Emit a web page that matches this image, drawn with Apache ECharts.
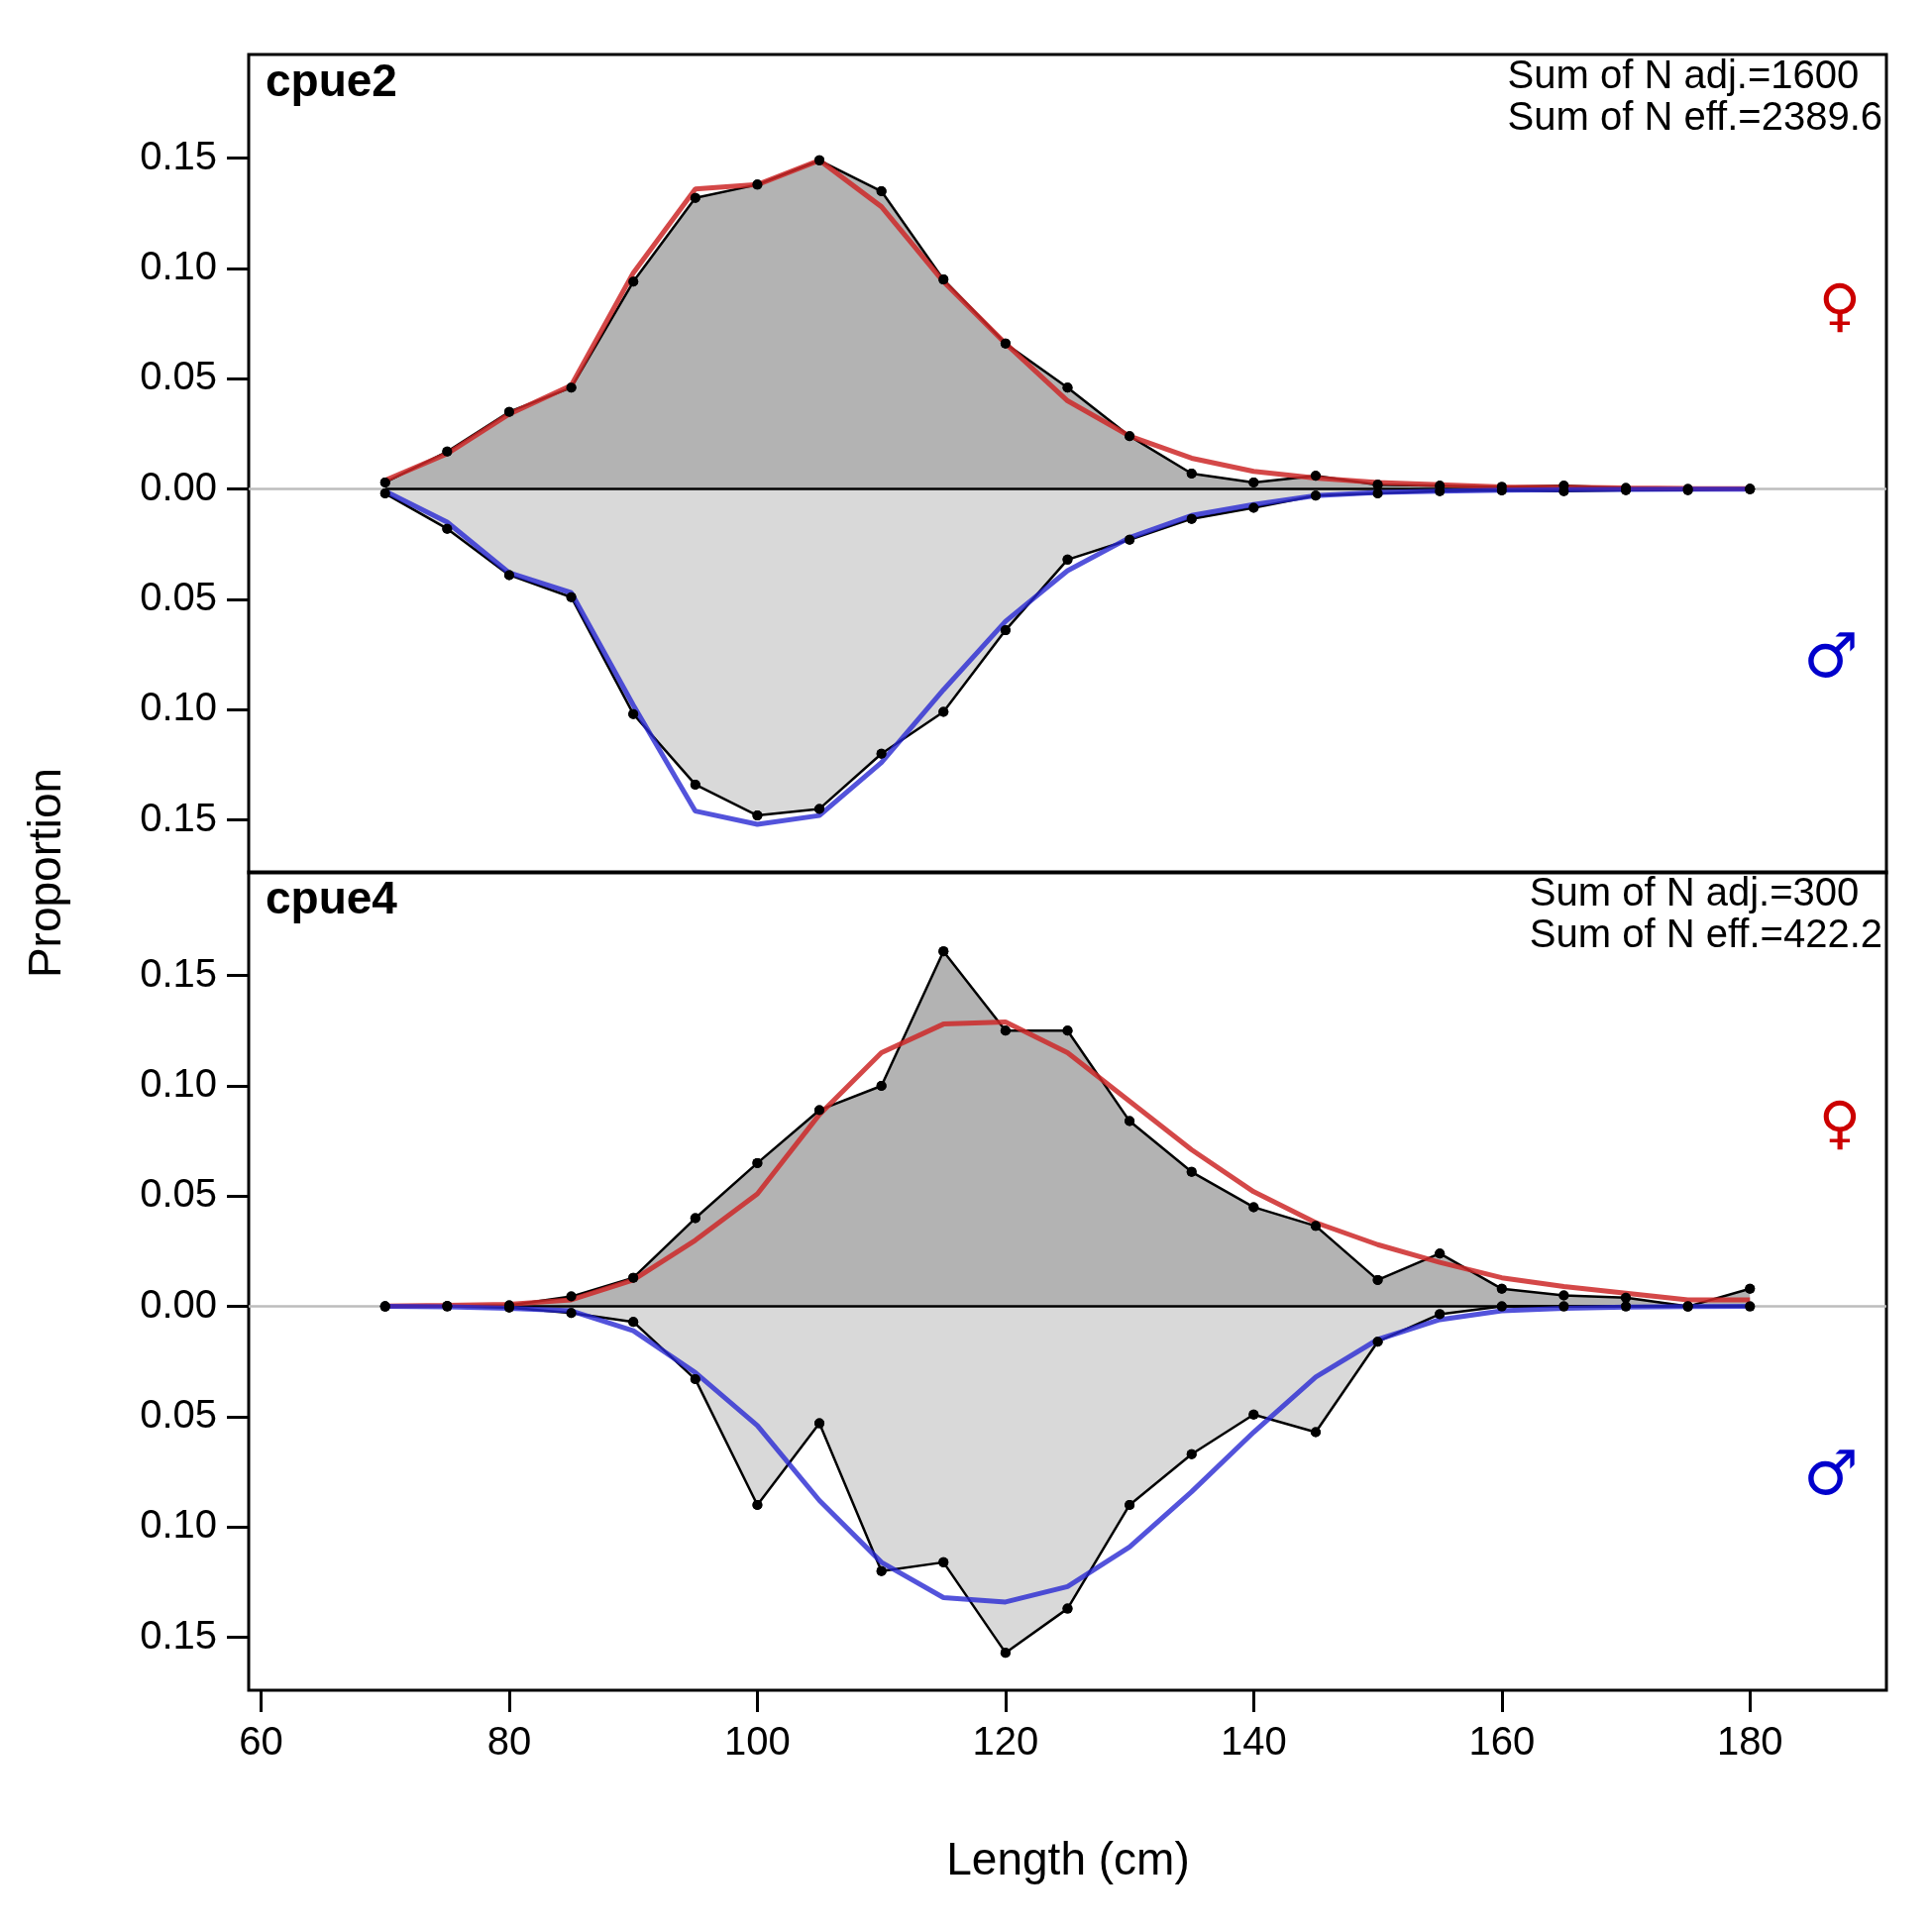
<!DOCTYPE html>
<html><head><meta charset="utf-8">
<script src="https://cdn.jsdelivr.net/npm/echarts@6/dist/echarts.min.js"></script>
<style>html,body{margin:0;background:#fff}#c{width:1950px;height:1950px}</style>
</head><body><div id="c"></div>
<script>
const lengths = [70,75,80,85,90,95,100,105,110,115,120,125,130,135,140,145,150,155,160,165,170,175,180];
const yTicks = [-0.15,-0.10,-0.05,0,0.05,0.10,0.15];
const xTicks = [60,80,100,120,140,160,180];

// cpue2
const f2Obs = [.003,.017,.035,.046,.094,.132,.138,.149,.135,.095,.066,.046,.024,.007,.003,.006,.002,.0015,.001,.0015,.0005,0,0];
const f2Fit = [.004,.016,.034,.047,.098,.136,.138,.149,.128,.094,.066,.040,.024,.014,.008,.005,.003,.002,.001,.0008,.0005,.0003,.0002];
const m2Obs = [.002,.018,.039,.049,.102,.134,.148,.145,.120,.101,.064,.032,.023,.0135,.0085,.003,.002,.001,.0006,.001,.0005,.0005,0];
const m2Fit = [.001,.015,.038,.047,.098,.146,.152,.148,.124,.091,.060,.037,.022,.012,.007,.003,.0015,.001,.0005,.0003,.0002,.0001,.0001];
// cpue4
const f4Obs = [0,.0002,.0005,.0045,.013,.040,.065,.089,.100,.161,.125,.125,.084,.061,.045,.0365,.012,.024,.008,.005,.004,0,.008];
const f4Fit = [.0002,.0005,.001,.003,.012,.030,.051,.087,.115,.128,.129,.115,.093,.071,.052,.038,.028,.020,.013,.009,.006,.003,.003];
const m4Obs = [0,0,.0005,.003,.007,.033,.090,.053,.120,.116,.157,.137,.090,.067,.049,.057,.016,.0035,0,0,0,0,0];
const m4Fit = [0,.0002,.0008,.002,.011,.030,.054,.088,.116,.132,.134,.127,.109,.084,.057,.032,.015,.006,.002,.0008,.0003,.0001,0];

const panels = [
  {name:'cpue2', adj:'Sum of N adj.=1600', eff:'Sum of N eff.=2389.6', fo:f2Obs, ff:f2Fit, mo:m2Obs, mf:m2Fit},
  {name:'cpue4', adj:'Sum of N adj.=300', eff:'Sum of N eff.=422.2', fo:f4Obs, ff:f4Fit, mo:m4Obs, mf:m4Fit}
];

const pts = (vals, sign) => lengths.map((x, i) => [x, sign * vals[i]]);
const font = 'Liberation Sans, Arial, sans-serif';
const L = 251, W = 1653, tops = [55, 880], H = 826;

const grids = [], xAxes = [], yAxes = [], series = [], graphic = [];
panels.forEach((p, k) => {
  grids.push({left: L, top: tops[k], width: W, height: H, show: true, borderColor: '#000', borderWidth: 3, backgroundColor: 'transparent'});
  xAxes.push({
    type: 'value', gridIndex: k, min: 59, max: 191, show: k === 1, position: 'bottom',
    axisLine: {show: false, onZero: false}, splitLine: {show: false},
    axisTick: {show: true, length: 22, lineStyle: {color: '#000', width: 3}, customValues: xTicks},
    axisLabel: {fontSize: 40, color: '#000', fontFamily: font, margin: 34, customValues: xTicks}
  });
  yAxes.push({
    type: 'value', gridIndex: k, min: -0.174, max: 0.197,
    axisLine: {show: false, onZero: false}, splitLine: {show: false},
    axisTick: {show: true, length: 22, lineStyle: {color: '#000', width: 3}, customValues: yTicks},
    axisLabel: {fontSize: 40, color: '#000', fontFamily: font, margin: 32, customValues: yTicks,
      formatter: v => Math.abs(v).toFixed(2)}
  });
  const base = {xAxisIndex: k, yAxisIndex: k, type: 'line', silent: true, animation: false};
  series.push({...base, data: [[59,0],[191,0]], symbol: 'none', lineStyle: {color: '#bdbdbd', width: 2.5}, z: 1});
  series.push({...base, data: pts(p.fo, 1), symbol: 'circle', symbolSize: 10, itemStyle: {color: '#000'},
    lineStyle: {color: '#000', width: 2.5}, areaStyle: {color: '#b3b3b3', opacity: 1, origin: 0}, z: 2});
  series.push({...base, data: pts(p.mo, -1), symbol: 'circle', symbolSize: 10, itemStyle: {color: '#000'},
    lineStyle: {color: '#000', width: 2.5}, areaStyle: {color: '#d9d9d9', opacity: 1, origin: 0}, z: 2});
  series.push({...base, data: [[70,0],[180,0]], symbol: 'none', lineStyle: {color: '#000', width: 2.5}, z: 3});
  series.push({...base, data: pts(p.ff, 1), symbol: 'none', lineStyle: {color: 'rgba(205,40,40,0.85)', width: 5}, z: 4});
  series.push({...base, data: pts(p.mf, -1), symbol: 'none', lineStyle: {color: 'rgba(40,40,210,0.8)', width: 5}, z: 4});
  series.push({...base, data: pts(p.fo, 1), symbol: 'circle', symbolSize: 10, itemStyle: {color: '#000'}, lineStyle: {width: 0}, z: 5});
  series.push({...base, data: pts(p.mo, -1), symbol: 'circle', symbolSize: 10, itemStyle: {color: '#000'}, lineStyle: {width: 0}, z: 5});

  const t = tops[k];
  graphic.push({type: 'text', left: 268, top: t + 6, style: {text: p.name, font: 'bold 46px ' + font, fill: '#000'}});
  graphic.push({type: 'text', right: 50, top: t + 2, style: {text: p.adj + '\n' + p.eff, font: '40px ' + font, fill: '#000', align: 'right', lineHeight: 42}});
  graphic.push({type: 'text', x: 1857, y: t + 258, style: {text: '♀', font: '58px DejaVu Sans', fill: '#cc0000', align: 'center', verticalAlign: 'middle'}});
  graphic.push({type: 'text', x: 1848, y: t + 612, style: {text: '♂', font: '62px DejaVu Sans', fill: '#0000cc', align: 'center', verticalAlign: 'middle'}});
});
graphic.push({type: 'text', x: 48, y: 881, rotation: Math.PI / 2, style: {text: 'Proportion', font: '46px ' + font, fill: '#000', align: 'center', verticalAlign: 'middle'}});
graphic.push({type: 'text', x: 1078, y: 1879, style: {text: 'Length (cm)', font: '46px ' + font, fill: '#000', align: 'center', verticalAlign: 'middle'}});

const chart = echarts.init(document.getElementById('c'));
chart.setOption({animation: false, backgroundColor: '#fff', grid: grids, xAxis: xAxes, yAxis: yAxes, series, graphic});
</script></body></html>
